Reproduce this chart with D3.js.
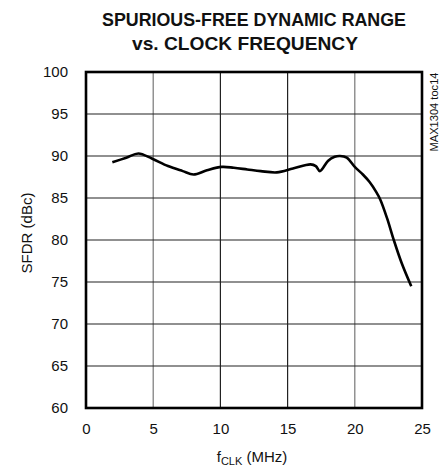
<!DOCTYPE html>
<html><head><meta charset="utf-8">
<script src="https://cdn.jsdelivr.net/npm/d3@7"></script>
<style>body{margin:0;background:#fff}svg{display:block}text{font-family:"Liberation Sans",Arial,sans-serif;fill:#111}</style>
</head><body>
<script>
const freqMHz = [1.96,3.0,3.9,4.9,6.1,7.2,8.0,9.0,10.1,11.0,12.0,13.0,14.2,15.4,16.7,17.1,17.4,18.0,18.5,18.9,19.4,20.0,20.6,21.1,21.6,21.9,22.4,22.9,23.5,24.2];
const sfdrDBc = [89.25,89.8,90.3,89.7,88.8,88.2,87.8,88.3,88.7,88.6,88.4,88.2,88.05,88.5,89.0,88.8,88.2,89.4,89.9,90.0,89.8,88.7,87.8,86.9,85.7,84.8,82.6,80.0,77.2,74.5];
const xTicks = [0,5,10,15,20,25];
const yTicks = [60,65,70,75,80,85,90,95,100];
const titleLines = ["SPURIOUS-FREE DYNAMIC RANGE","vs. CLOCK FREQUENCY"];

const W=443,H=472, L=86,R=422,T=72,B=408;
const svg=d3.select("body").append("svg").attr("width",W).attr("height",H);
const x=d3.scaleLinear().domain([0,25]).range([L,R]);
const y=d3.scaleLinear().domain([60,100]).range([B,T]);

// grid
svg.append("g").selectAll("line").data(xTicks.slice(1,-1)).join("line")
  .attr("x1",d=>x(d)).attr("x2",d=>x(d)).attr("y1",T).attr("y2",B)
  .attr("stroke",(d,i)=>(i===0||i===3)?"#777":"#222").attr("stroke-width",1.2);
svg.append("g").selectAll("line").data(yTicks.slice(1,-1)).join("line")
  .attr("y1",d=>y(d)).attr("y2",d=>y(d)).attr("x1",L).attr("x2",R)
  .attr("stroke","#222").attr("stroke-width",1.2);

// axes labels
const xa=d3.axisBottom(x).tickValues(xTicks).tickSize(0).tickPadding(15);
svg.append("g").attr("transform",`translate(0,${B})`).call(xa)
  .call(g=>g.select(".domain").remove())
  .selectAll("text").style("font-size","15px").attr("fill","#111").style("font-family","Liberation Sans, Arial, sans-serif");
const ya=d3.axisLeft(y).tickValues(yTicks).tickSize(0).tickPadding(18);
svg.append("g").attr("transform",`translate(${L},0)`).call(ya)
  .call(g=>g.select(".domain").remove())
  .selectAll("text").style("font-size","15px").attr("fill","#111").style("font-family","Liberation Sans, Arial, sans-serif");

// curve
svg.append("path").datum(freqMHz.map((f,i)=>[f,sfdrDBc[i]]))
  .attr("d",d3.line().x(d=>x(d[0])).y(d=>y(d[1])).curve(d3.curveCatmullRom))
  .attr("fill","none").attr("stroke","#000").attr("stroke-width",2.6);

// frame
svg.append("rect").attr("x",L).attr("y",T).attr("width",R-L).attr("height",B-T)
  .attr("fill","none").attr("stroke","#000").attr("stroke-width",2.6);

// title
svg.append("text").attr("x",254).attr("y",26).attr("text-anchor","middle")
  .attr("font-weight","bold").style("font-size","18px")
  .attr("textLength",304).attr("lengthAdjust","spacingAndGlyphs").text(titleLines[0]);
svg.append("text").attr("x",245).attr("y",50).attr("text-anchor","middle")
  .attr("font-weight","bold").style("font-size","18px")
  .attr("textLength",226).attr("lengthAdjust","spacingAndGlyphs").text(titleLines[1]);

// x label
const xl=svg.append("text").attr("x",252).attr("y",462).attr("text-anchor","middle").style("font-size","15px");
xl.append("tspan").text("f");
xl.append("tspan").attr("dy",3).style("font-size","11px").text("CLK");
xl.append("tspan").attr("dy",-3).text(" (MHz)");

// y label
svg.append("text").attr("transform","translate(32,233) rotate(-90)").attr("text-anchor","middle")
  .style("font-size","15px").text("SFDR (dBc)");

// side note
svg.append("text").attr("transform","translate(438,112) rotate(-90)").attr("text-anchor","middle")
  .style("font-size","10.5px").attr("textLength",79).attr("lengthAdjust","spacingAndGlyphs").text("MAX1304 toc14");
</script>
</body></html>
